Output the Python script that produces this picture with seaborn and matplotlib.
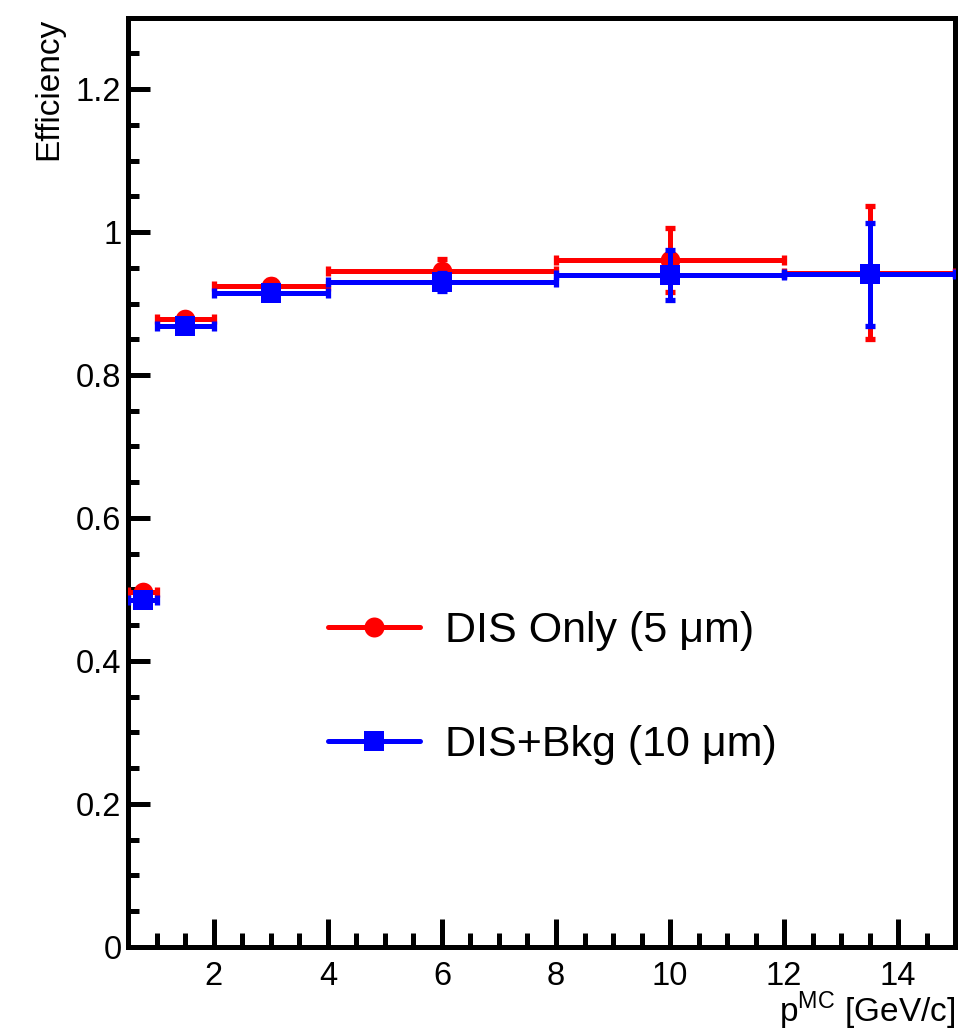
import numpy as np
import pandas as pd
import matplotlib
matplotlib.use("Agg")
import matplotlib.pyplot as plt
from matplotlib.lines import Line2D
from matplotlib.ticker import MultipleLocator, FuncFormatter
import seaborn as sns

# momentum bins [GeV/c]
bin_lo = [0.5, 1.0, 2.0, 4.0, 8.0, 12.0]
bin_hi = [1.0, 2.0, 4.0, 8.0, 12.0, 15.0]

# DIS only (5 um)
eff_dis = [0.497, 0.878, 0.925, 0.945, 0.961, 0.943]
err_dis = [0.004, 0.004, 0.008, 0.017, 0.045, 0.093]

# DIS + background (10 um)
eff_bkg = [0.485, 0.868, 0.914, 0.930, 0.940, 0.941]
err_bkg = [0.004, 0.004, 0.008, 0.012, 0.035, 0.072]

labels = ["DIS Only (5 \u03bcm)", "DIS+Bkg (10 \u03bcm)"]

sns.set_theme(style="ticks")
plt.rcParams["font.family"] = ["Liberation Sans", "DejaVu Sans"]
plt.rcParams["mathtext.fontset"] = "custom"
plt.rcParams["mathtext.rm"] = "Liberation Sans"
plt.rcParams["text.color"] = "black"
plt.rcParams["axes.labelcolor"] = "black"

def make_df(eff, err):
    df = pd.DataFrame({"lo": bin_lo, "hi": bin_hi, "eff": eff, "err": err})
    df["p"] = (df["lo"] + df["hi"]) / 2
    df["xerr"] = (df["hi"] - df["lo"]) / 2
    return df

series = [
    (make_df(eff_dis, err_dis), "#ff0000", "o", 3),
    (make_df(eff_bkg, err_bkg), "#0000ff", "s", 5),
]

fig = plt.figure(figsize=(9.58, 10.30), dpi=100)
ax = fig.add_axes([0.134, 0.0806, 0.863, 0.9024])

for df, color, marker, z in series:
    ax.errorbar(df["p"], df["eff"], xerr=df["xerr"], yerr=df["err"],
                fmt="none", ecolor=color, elinewidth=3.6, capsize=3.5,
                capthick=3.8, zorder=z)
    sns.scatterplot(data=df, x="p", y="eff", ax=ax, color=color,
                    marker=marker, s=200, linewidth=0, zorder=z + 1)

ax.set_xlim(0.5, 15)
ax.set_ylim(0, 1.3)

ax.xaxis.set_major_locator(MultipleLocator(2))
ax.xaxis.set_minor_locator(MultipleLocator(0.5))
ax.yaxis.set_major_locator(MultipleLocator(0.2))
ax.yaxis.set_minor_locator(MultipleLocator(0.05))
ax.yaxis.set_major_formatter(FuncFormatter(lambda v, _: f"{v:g}"))
ax.xaxis.set_major_formatter(FuncFormatter(lambda v, _: f"{v:g}"))

ax.tick_params(axis="both", which="both", direction="in", colors="black",
               width=3.6, labelsize=23.5, top=False, right=False)
ax.tick_params(axis="x", which="major", length=20, pad=10)
ax.tick_params(axis="x", which="minor", length=10)
ax.tick_params(axis="y", which="major", length=16, pad=5)
ax.tick_params(axis="y", which="minor", length=8)

for sp in ax.spines.values():
    sp.set_linewidth(3.6)
    sp.set_color("black")

ax.set_xlabel(r"p$^{\rm MC}$ [GeV/c]", fontsize=24, loc="right")
ax.xaxis.set_label_coords(1.0, -0.046)
ax.set_ylabel("Efficiency", fontsize=24, loc="top")
ax.yaxis.set_label_coords(-0.077, 1.0)

handles = [
    Line2D([], [], color="#ff0000", lw=3.6, marker="o", markersize=14.4,
           markeredgewidth=0),
    Line2D([], [], color="#0000ff", lw=3.6, marker="s", markersize=14.4,
           markeredgewidth=0),
]
ax.legend(handles, labels, loc="center left", bbox_to_anchor=(0.2414, 0.2785),
          frameon=False, fontsize=31, handlelength=2.14, handletextpad=0.58,
          labelspacing=1.73, borderpad=0, borderaxespad=0)

fig.savefig("out.png", dpi=100, facecolor="white")
